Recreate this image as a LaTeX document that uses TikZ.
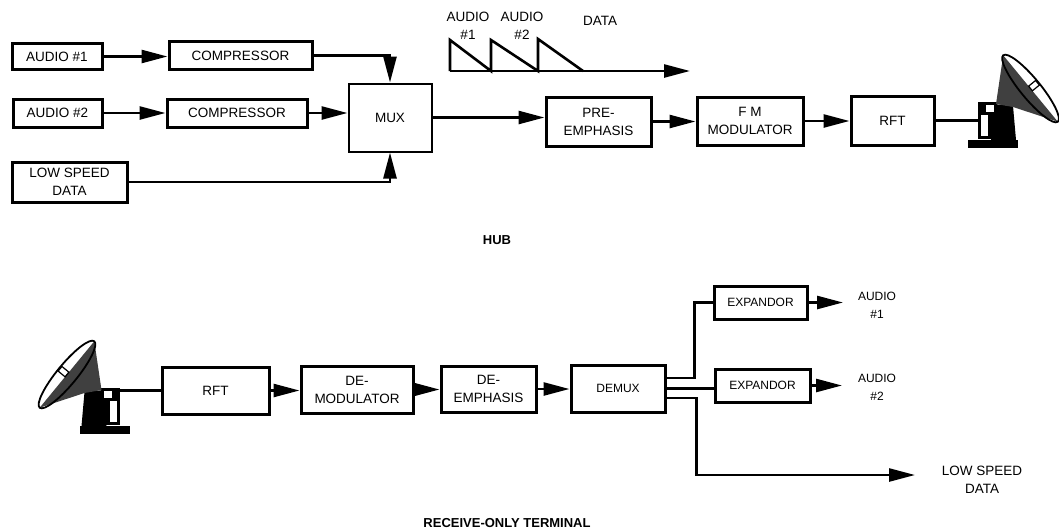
\documentclass[tikz,border=0pt]{standalone}
\usepackage{fontspec}
\setmainfont{Liberation Sans}
\usetikzlibrary{arrows.meta,calc}

% satellite earth station: reflector, feed cone, pedestal and equipment cabinet
\tikzset{
  dish/.pic={
    % base plate
    \fill (-25,-8) rectangle (25,0);
    % pedestal
    \fill (0,-44) -- (20,-42) -- (23,-8) -- (-2,-8) -- cycle;
    % equipment cabinet
    \fill (-15,-46) rectangle (4,-9);
    \fill[white] (-7,-43) rectangle (1,-36);
    \fill[white] (-12,-33) rectangle (-5,-12);
    % reflector rim (face)
    \begin{scope}[shift={(37.5,-59.5)}, rotate=-50.6]
      \fill[white] (0,0) ellipse [x radius=43pt, y radius=10pt];
    \end{scope}
    % reflector body
    \fill[black!75] (10.2,-92.7) -- (3,-44) -- (20,-41) -- (64.8,-26.3) -- cycle;
    \begin{scope}[shift={(37.5,-59.5)}, rotate=-50.6]
      \draw[line width=1.8pt] (0,0) ellipse [x radius=43pt, y radius=10pt];
      % feed strut
      \draw[line width=1.2pt, fill=white] (-3pt,0pt) rectangle (3pt,9pt);
    \end{scope}
    \coordinate (-port) at (-15,-28);
  }
}

\begin{document}
\begin{tikzpicture}[x=1pt, y=-1pt,
  blk/.style={draw, line width=3pt, inner sep=0pt, align=center,
              font=\fontsize{13.5}{18}\selectfont},
  blks/.style={blk, font=\fontsize{12}{16}\selectfont},
  conn/.style={line width=2.6pt},
  arr/.style={conn, -{Triangle[length=26pt,width=13pt]}},
  lbl/.style={inner sep=0pt, align=center, font=\fontsize{13.5}{18}\selectfont},
  lbls/.style={lbl, font=\fontsize{12}{18}\selectfont},
  title/.style={inner sep=0pt, font=\bfseries\fontsize{13}{15}\selectfont}
]
\useasboundingbox (0,0) rectangle (1059,530);

% ---------------- hub ----------------
\node[blk, minimum width=90pt, minimum height=26pt] (a1) at (57,56.5) {AUDIO \#1};
\node[blk, minimum width=143pt, minimum height=28pt] (c1) at (240.5,55.5) {COMPRESSOR};
\node[blk, minimum width=89pt, minimum height=28pt] (a2) at (57.5,113) {AUDIO \#2};
\node[blk, minimum width=140pt, minimum height=28pt] (c2) at (237,113) {COMPRESSOR};
\node[blk, minimum width=115pt, minimum height=40pt] (lsd) at (69.5,182) {LOW SPEED\\DATA};
\node[blk, line width=2pt, minimum width=83pt, minimum height=68pt] (mux) at (390,117.5) {MUX};
\node[blk, minimum width=105pt, minimum height=49pt] (pre) at (598.5,121.5) {PRE-\\EMPHASIS};
\node[blk, minimum width=106pt, minimum height=48pt] (fm) at (750,121) {F M\\MODULATOR};
\node[blk, minimum width=83pt, minimum height=49pt] (rft1) at (892.5,120.5) {RFT};
\pic (d1) at (993,148) {dish};

% multiplexed baseband sketch
\draw[conn, line join=miter] (450,71) -- (450,40) -- (491,71) -- (491,40)
  -- (538,71) -- (538,39) -- (583,71);
\draw[arr] (450,71) -- (690,71);
\node[lbl] (w1) at (468,26) {AUDIO\\\#1};
\node[lbl] (w2) at (522,26) {AUDIO\\\#2};
\node[lbl] (w3) at (600,21) {DATA};

\draw[arr] (a1.east) -- (a1.east -| c1.west);
\draw[arr] (c1.east) -| (mux.north);
\draw[arr] (a2.east) -- (a2.east -| c2.west);
\draw[arr] (c2.east) -- (c2.east -| mux.west);
\draw[arr] (lsd.east) -| (mux.south);
\draw[arr] (mux.east) -- (mux.east -| pre.west);
\draw[arr] (pre.east) -- (pre.east -| fm.west);
\draw[arr] (fm.east) -- (fm.east -| rft1.west);
\draw[conn] (rft1.east) -- (rft1.east -| d1-port);

\node[title] (hub) at (497,240) {HUB};

% ---------------- receive-only terminal ----------------
\pic[xscale=-1] (d2) at (104.5,434) {dish};
\node[blk, minimum width=107pt, minimum height=47pt] (rft2) at (215.5,390.5) {RFT};
\node[blk, minimum width=112pt, minimum height=47pt] (dem) at (357,389.5) {DE-\\MODULATOR};
\node[blk, minimum width=95pt, minimum height=46pt] (dee) at (488.5,389) {DE-\\EMPHASIS};
\node[blks, minimum width=94pt, minimum height=47pt] (demux) at (618,388.5) {DEMUX};
\node[blks, minimum width=93pt, minimum height=33pt] (exp1) at (760.5,302.5) {EXPANDOR};
\node[blks, minimum width=95pt, minimum height=33pt] (exp2) at (762.5,385.5) {EXPANDOR};

\coordinate (o1) at (843,302.5);
\coordinate (o2) at (842,385.5);
\coordinate (o3) at (915,475);
\node[lbls] (l1) at (877,305) {AUDIO\\\#1};
\node[lbls] (l2) at (877,387.5) {AUDIO\\\#2};
\node[lbl] (l3) at (982,480) {LOW SPEED\\DATA};

\draw[conn] (d2-port |- rft2.west) -- (rft2.west);
\draw[arr] (rft2.east) -- (rft2.east -| dem.west);
\draw[arr] (dem.east) -- (dem.east -| dee.west);
\draw[arr] (dee.east) -- (dee.east -| demux.west);
\draw[conn] ($(demux.east)+(0,-10.5)$) -- ++(28,0) |- (exp1.west);
\draw[conn] (demux.east) -- (demux.east -| exp2.west);
\draw[arr] ($(demux.east)+(0,9.5)$) -- ++(30,0) |- (o3);
\draw[arr] (exp1.east) -- (o1);
\draw[arr] (exp2.east) -- (o2);

\node[title] (rot) at (507,523) {RECEIVE-ONLY TERMINAL};
\end{tikzpicture}
\end{document}
